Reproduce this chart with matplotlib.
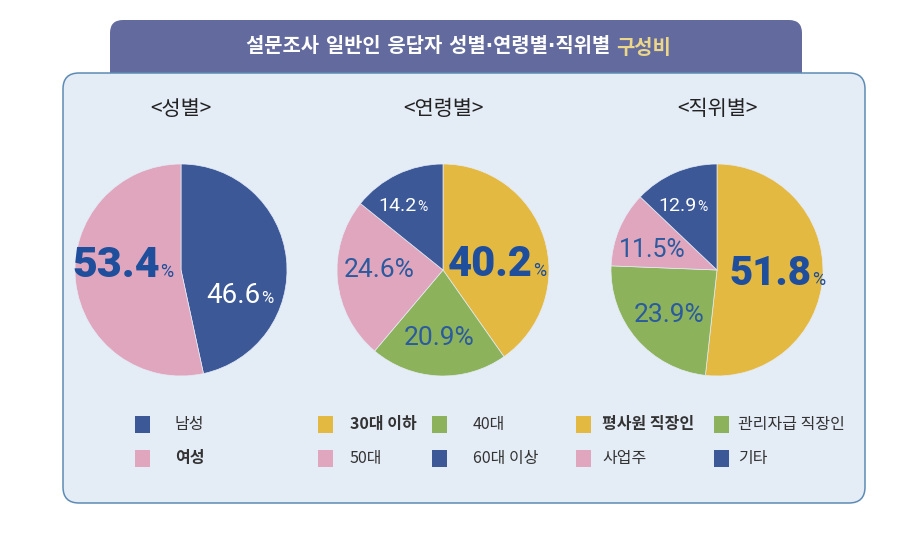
import matplotlib.pyplot as plt
from matplotlib.patches import FancyBboxPatch, Rectangle

# 데이터
gender_labels = ['남성', '여성']
gender_values = [46.6, 53.4]
age_labels = ['30대 이하', '40대', '50대', '60대 이상']
age_values = [40.2, 20.9, 24.6, 14.2]
job_labels = ['평사원 직장인', '관리자급 직장인', '사업주', '기타']
job_values = [51.8, 23.9, 11.5, 12.9]
subtitles = ['<성별>', '<연령별>', '<직위별>']
title_main = '설문조사 일반인 응답자 성별·연령별·직위별'
title_hi = '구성비'

NAVY = '#3c5897'
PINK = '#dfa6be'
GOLD = '#e4b942'
GREEN = '#8cb35b'
LBLUE = '#2b5a9f'
KR = ['Noto Sans CJK KR', 'DejaVu Sans']
NUM = ['Roboto', 'DejaVu Sans']

W, H = 903, 533
R = 106

# pie 별 설정: 중심(px), 색, 라벨 위치/스타일, 범례 위치, 굵은 범례
pies = [
    dict(values=gender_values, labels=gender_labels, center=(181, 270),
         colors=[NAVY, PINK],
         # (x, baseline, size, color, weight, pct size, mode)
         text=[(261, 303, 20, 'white', 'normal', 12, 'split'),
               (160, 277, 31, '#1f4f9c', 'black', 13, 'split')],
         legend=[(135, 424), (135, 458)], text_dx=[40, 40], bold=[False, True]),
    dict(values=age_values, labels=age_labels, center=(443, 270),
         colors=[GOLD, GREEN, PINK, NAVY],
         text=[(533, 276, 30, '#1f4f9c', 'black', 13, 'split'),
               (439, 345, 19, LBLUE, 'normal', None, 'center'),
               (379, 277, 19, LBLUE, 'normal', None, 'center'),
               (417, 211, 14, 'white', 'normal', 10, 'split')],
         legend=[(318, 424), (432, 424), (318, 458), (432, 458)],
         text_dx=[32, 41, 32, 41], bold=[True, False, False, False]),
    dict(values=job_values, labels=job_labels, center=(717, 270),
         colors=[GOLD, GREEN, PINK, NAVY],
         text=[(812, 285, 29, '#1f4f9c', 'black', 13, 'split'),
               (669, 322, 19, LBLUE, 'normal', None, 'center'),
               (652, 257, 18, LBLUE, 'normal', None, 'center'),
               (697, 211, 14, 'white', 'normal', 10, 'split')],
         legend=[(576, 424), (714, 424), (576, 458), (714, 458)],
         text_dx=[26, 24, 26, 24], bold=[True, False, False, False]),
]

fig = plt.figure(figsize=(W / 100, H / 100), dpi=100)
fig.patch.set_facecolor('white')

bg = fig.add_axes([0, 0, 1, 1])
bg.set_xlim(0, W)
bg.set_ylim(H, 0)
bg.axis('off')

# 제목 배너와 패널
bg.add_patch(FancyBboxPatch((110, 20), 692, 80, boxstyle='round,pad=0,rounding_size=13',
                            facecolor='#636b9e', edgecolor='none', zorder=1))
bg.add_patch(FancyBboxPatch((63, 73), 802, 430, boxstyle='round,pad=0,rounding_size=16',
                            facecolor='#e4ecf6', edgecolor='#5e8bb4', linewidth=1.1, zorder=2))
bg.text(610, 47, title_main, color='white', fontsize=14.3, fontweight='bold',
        family=['DejaVu Sans', 'Noto Sans CJK KR'], ha='right', va='center', zorder=3)
bg.text(616, 47, title_hi, color='#ecd68a', fontsize=14.3, fontweight='bold',
        family=KR, ha='left', va='center', zorder=3)

# 파이
for p in pies:
    cx, cy = p['center']
    ax = fig.add_axes([(cx - R) / W, 1 - (cy + R) / H, 2 * R / W, 2 * R / H])
    ax.pie(p['values'], colors=p['colors'], startangle=90, counterclock=False,
           radius=1, wedgeprops=dict(edgecolor='#e4ecf6', linewidth=0.5))
    ax.set_xlim(-1, 1)
    ax.set_ylim(-1, 1)
    ax.axis('off')

# 라벨, 범례 (파이 위에)
fg = fig.add_axes([0, 0, 1, 1])
fg.set_xlim(0, W)
fg.set_ylim(H, 0)
fg.axis('off')

for i, p in enumerate(pies):
    cx, cy = p['center']
    fg.text(cx, 109, subtitles[i], fontsize=15, family=KR, color='#222222',
            fontweight='medium', ha='center', va='center')

    for v, (x, y, size, col, wt, psize, mode) in zip(p['values'], p['text']):
        num = f'{v:.1f}'
        if mode == 'split':
            fg.text(x, y, num, fontsize=size, color=col, fontweight=wt, family=NUM,
                    ha='right', va='baseline')
            fg.text(x + 0.5, y, '%', fontsize=psize, color=col, family=NUM,
                    ha='left', va='baseline')
        else:
            fg.text(x, y, num + '%', fontsize=size, color=col, fontweight=wt, family=NUM,
                    ha='center', va='baseline')

    for lab, col, (lx, ly), dx, b in zip(p['labels'], p['colors'], p['legend'],
                                         p['text_dx'], p['bold']):
        fg.add_patch(Rectangle((lx, ly - 8.5), 15, 17, facecolor=col, edgecolor='none'))
        fg.text(lx + dx, ly, lab, fontsize=11.5, family=KR, color='#333333',
                fontweight='bold' if b else 'normal', ha='left', va='center')

fig.savefig('out.png', dpi=100)
